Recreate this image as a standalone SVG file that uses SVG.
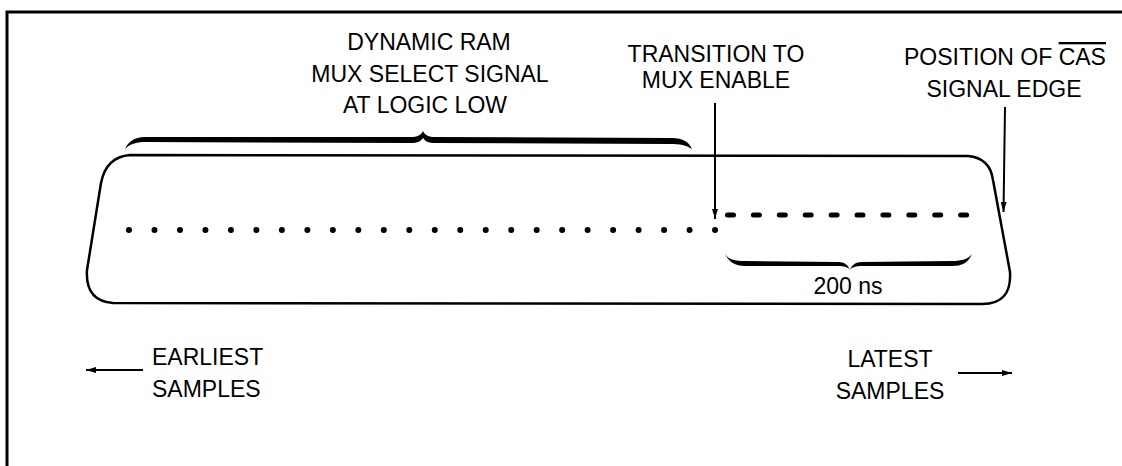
<svg xmlns="http://www.w3.org/2000/svg" width="1122" height="466" viewBox="0 0 1122 466">
<defs>
<style>
text{font-family:"Liberation Sans",Arial,Helvetica,sans-serif;font-size:23px;fill:#000}
.c{text-anchor:middle}
.ln{fill:none;stroke:#000;stroke-width:2}
.ol{text-decoration:overline}
</style>
<marker id="ah" viewBox="0 0 10 6" refX="10" refY="3" markerWidth="10" markerHeight="6" markerUnits="userSpaceOnUse" orient="auto">
<path d="M0,0 L10,3 L0,6 Z" fill="#000"/>
</marker>
</defs>
<rect width="1122" height="466" fill="#fff"/>
<g id="frame">
<path d="M7 470 L7 12 L1125 12" fill="none" stroke="#000" stroke-width="3"/>
</g>
<g id="buffer-box">
<path d="M130 155 L968 156 Q990 158 993 180 L1010 272 Q1012 304 982 304 L113 303 Q85 301 87 270 L101 183 Q106 157 130 155 Z" fill="none" stroke="#000" stroke-width="2.5"/>
</g>
<g id="low-samples">
<path d="M129 230 L716 230" fill="none" stroke="#000" stroke-width="6" stroke-linecap="round" stroke-dasharray="0 25.48"/>
</g>
<g id="high-samples">
<path d="M727.5 215 L970 215" fill="none" stroke="#000" stroke-width="5" stroke-linecap="round" stroke-dasharray="6 19.9"/>
</g>
<g id="brace-mux-low">
<path d="M125 149 C128 142 134 137 145 137 L410 137 C418 137 421 135 423 131 C425 135 428 137 436 137 L672 138 C683 138 689 142 692 149 C686 145 680 144 670 144 L436 143 C428 143 425 141 423 138 C421 141 418 143 410 143 L145 142 C136 142 130 144 125 149 Z" fill="#000"/>
</g>
<g id="brace-200ns">
<path d="M725 254 C729 260 735 261 745 261 L838 262 C845 262 848 265 850 270 C852 265 855 262 862 262 L952 261 C962 261 968 259 972 254 C968 263 962 266 952 266 L862 266 C856 266 852 267 850 270 C848 267 844 266 838 266 L745 266 C735 266 729 262 725 254 Z" fill="#000"/>
</g>
<g id="label-mux-low">
<text class="c" x="429" y="50">DYNAMIC RAM</text>
<text class="c" x="430" y="82">MUX SELECT SIGNAL</text>
<text class="c" x="425" y="113">AT LOGIC LOW</text>
</g>
<g id="label-transition">
<text class="c" x="716" y="62">TRANSITION TO</text>
<text class="c" x="716" y="88">MUX ENABLE</text>
</g>
<g id="label-cas">
<text class="c" x="1005" y="65">POSITION OF <tspan class="ol">CAS</tspan></text>
<text class="c" x="1004" y="97">SIGNAL EDGE</text>
</g>
<g id="label-200ns">
<text class="c" x="848" y="294">200 ns</text>
</g>
<g id="label-earliest">
<text x="152" y="365">EARLIEST</text>
<text x="152" y="397">SAMPLES</text>
</g>
<g id="label-latest">
<text class="c" x="890" y="367">LATEST</text>
<text class="c" x="890" y="399">SAMPLES</text>
</g>
<g id="connectors">
<path class="ln" d="M715 103 L715 219" marker-end="url(#ah)"/>
<path class="ln" d="M1005 107 L1003.5 212" marker-end="url(#ah)"/>
<path class="ln" d="M143 370 L86 370" marker-end="url(#ah)"/>
<path class="ln" d="M958 373 L1012 373" marker-end="url(#ah)"/>
</g>
</svg>
